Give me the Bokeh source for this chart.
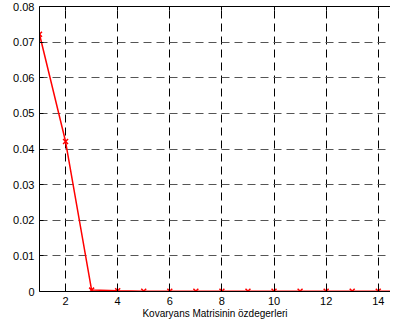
from bokeh.plotting import figure
from bokeh.models import Range1d, LinearAxis, FixedTicker
from bokeh.embed import file_html
from bokeh.resources import INLINE

x_vals = [1, 2, 3, 4, 5, 6, 7, 8, 9, 10, 11, 12, 13, 14, 15]
eigen_vals = [0.0722, 0.0421, 0.0004, 0.0002, 0.0001, 0.0001, 0.0001, 0.0001,
              0.0001, 0.0001, 0.0001, 0.0001, 0.0001, 0.0001, 0.0001]
x_ticks = [2, 4, 6, 8, 10, 12, 14]
y_ticks = [0, 0.01, 0.02, 0.03, 0.04, 0.05, 0.06, 0.07, 0.08]
x_label = "Kovaryans Matrisinin özdegerleri"

FONT = "Liberation Sans"

p = figure(width=390, height=321, output_backend="svg", toolbar_location=None,
           x_range=Range1d(1, 14.47), y_range=Range1d(0, 0.08),
           min_border_left=39, min_border_top=6, min_border_right=0, min_border_bottom=0)
p.outline_line_color = None
p.background_fill_color = "white"
p.border_fill_color = "white"

p.xaxis.ticker = FixedTicker(ticks=x_ticks)
p.yaxis.ticker = FixedTicker(ticks=y_ticks)
p.yaxis.major_label_overrides = {0: "0"}
for ax in (p.xaxis[0], p.yaxis[0]):
    ax.axis_line_color = "black"
    ax.major_tick_in = 4
    ax.major_tick_out = 0
    ax.minor_tick_line_color = None
    ax.major_label_text_font = FONT
    ax.major_label_text_font_size = "11px"
    ax.major_label_text_color = "black"
p.yaxis.major_label_standoff = 5
p.xaxis.major_label_standoff = 5
p.xaxis.axis_label = x_label
p.xaxis.axis_label_text_font = FONT
p.xaxis.axis_label_text_font_size = "10px"
p.xaxis.axis_label_text_font_style = "normal"
p.xaxis.axis_label_text_color = "black"
p.xaxis.axis_label_standoff = 0

top = LinearAxis(ticker=FixedTicker(ticks=x_ticks), major_label_overrides={t: "" for t in x_ticks},
                 major_tick_in=4, major_tick_out=0, minor_tick_line_color=None,
                 major_label_standoff=0, axis_line_color="black")
p.add_layout(top, "above")

p.xgrid.grid_line_color = "black"
p.xgrid.grid_line_dash = "8 5"
p.ygrid.grid_line_color = "#555555"
p.ygrid.grid_line_dash = "8 5"

p.line(x_vals, eigen_vals, line_color="red", line_width=1.5)
p.scatter(x_vals, eigen_vals, marker="x", size=7, line_color="red", line_width=1.5)

open("out.html", "w").write(file_html(p, INLINE))
